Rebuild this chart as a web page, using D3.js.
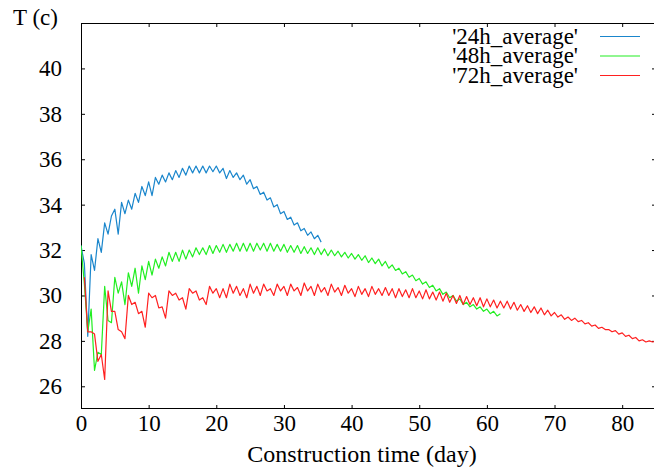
<!DOCTYPE html>
<html>
<head>
<meta charset="utf-8">
<script src="https://cdn.jsdelivr.net/npm/d3@7"></script>
<style>
  body { margin: 0; background: #fff; }
</style>
</head>
<body>
<div class="chart"></div>
<script>
// temperature samples every half day
var sampleStep = 0.5;

var seriesNames = ["'24h_average'", "'48h_average'", "'72h_average'"];
var seriesStart = [0, 0, 0.5];

var avg24 = [
  32.2, 31.4, 28.2, 31.8, 31.1, 32.5, 31.9, 33.2, 32.7, 33.5,
  33.8, 32.7, 34.1, 33.6, 34.2, 33.8, 34.5, 34.1, 34.8, 34.4,
  35.0, 34.4, 35.2, 34.9, 35.3, 35.0, 35.4, 35.1, 35.5, 35.2,
  35.6, 35.3, 35.7, 35.4, 35.7, 35.4, 35.7, 35.4, 35.7, 35.45,
  35.7, 35.4, 35.6, 35.15, 35.5, 35.2, 35.4, 35.1, 35.3, 34.9,
  35.1, 34.7, 34.8, 34.45, 34.55, 34.2, 34.3, 33.9, 34.0, 33.6,
  33.7, 33.35, 33.45, 33.1, 33.2, 32.85, 32.95, 32.65, 32.8, 32.5,
  32.65, 32.35
];

var avg48 = [
  32.2, 30.5, 28.4, 29.4, 26.7, 27.5, 27.4, 30.4, 28.9, 28.8,
  30.8, 30.1, 30.6, 29.6, 31.0, 30.4, 31.2, 30.1, 31.3, 30.7,
  31.5, 30.9, 31.6, 31.2, 31.7, 31.3, 31.9, 31.5, 31.9, 31.5,
  32.0, 31.6, 32.0, 31.7, 32.1, 31.8, 32.1, 31.8, 32.2, 31.85,
  32.2, 31.9, 32.25, 31.9, 32.25, 31.95, 32.3, 31.95, 32.3, 31.95,
  32.3, 31.95, 32.3, 32.0, 32.3, 31.95, 32.3, 31.95, 32.25, 31.95,
  32.25, 31.9, 32.2, 31.9, 32.2, 31.85, 32.15, 31.85, 32.1, 31.8,
  32.1, 31.8, 32.05, 31.75, 32.0, 31.75, 31.95, 31.7, 31.9, 31.65,
  31.85, 31.6, 31.8, 31.55, 31.75, 31.45, 31.65, 31.4, 31.6, 31.3,
  31.5, 31.2, 31.35, 31.1, 31.2, 30.95, 31.05, 30.8, 30.9, 30.65,
  30.75, 30.5, 30.6, 30.35, 30.45, 30.2, 30.3, 30.05, 30.15, 29.9,
  30.0, 29.75, 29.85, 29.6, 29.7, 29.5, 29.6, 29.4, 29.5, 29.3,
  29.4, 29.2, 29.3, 29.1, 29.2
];

var avg72 = [
  30.8, 28.4, 28.4, 28.3, 27.1, 27.4, 26.3, 30.2, 29.3, 29.3,
  28.5, 28.4, 28.1, 30.0, 29.6, 29.7, 29.2, 29.3, 28.6, 30.1,
  29.9, 30.0, 29.45, 29.5, 29.0, 30.2, 30.0, 30.1, 29.8, 29.9,
  29.4, 30.3, 30.1, 30.2, 29.8, 29.9, 29.6, 30.4, 30.1, 30.3,
  29.9, 30.3, 29.9, 30.5, 30.1, 30.4, 30.0, 30.3, 29.9, 30.5,
  30.1, 30.4, 30.0, 30.5, 30.2, 30.3, 30.0, 30.5, 30.2, 30.4,
  30.0, 30.5, 30.2, 30.35, 30.0, 30.55, 30.2, 30.4, 30.0, 30.5,
  30.15, 30.35, 30.0, 30.5, 30.15, 30.35, 30.0, 30.45, 30.1, 30.3,
  29.95, 30.4, 30.05, 30.3, 29.95, 30.4, 30.05, 30.3, 30.0, 30.35,
  30.0, 30.3, 29.9, 30.3, 29.95, 30.25, 29.9, 30.3, 29.9, 30.2,
  29.85, 30.25, 29.85, 30.15, 29.8, 30.15, 29.75, 30.1, 29.7, 30.0,
  29.65, 30.0, 29.6, 29.95, 29.6, 29.9, 29.55, 29.9, 29.5, 29.85,
  29.5, 29.8, 29.45, 29.75, 29.45, 29.75, 29.4, 29.7, 29.35, 29.6,
  29.3, 29.55, 29.25, 29.5, 29.2, 29.45, 29.15, 29.35, 29.1, 29.25,
  29.05, 29.15, 28.95, 29.05, 28.9, 29.0, 28.85, 28.9, 28.75, 28.8,
  28.65, 28.7, 28.55, 28.6, 28.5, 28.5, 28.4, 28.45, 28.3, 28.35,
  28.2, 28.25, 28.1, 28.15, 28.0, 28.05, 27.95, 28.0, 27.95, 28.0
];

var xTicks = [0, 10, 20, 30, 40, 50, 60, 70, 80];
var yTicks = [26, 28, 30, 32, 34, 36, 38, 40];
var colors = ["#1a86cc", "#22ee22", "#ff2020"];

var W = 654, H = 468;
var plotL = 81, plotT = 23, plotR = 656, plotB = 409;
var serif = "'Liberation Serif', 'Times New Roman', 'DejaVu Serif', serif";

var svg = d3.select(".chart").append("svg")
  .attr("width", W)
  .attr("height", H)
  .attr("font-family", serif);

var x = d3.scaleLinear().domain([0, 85]).range([plotL, plotR]);
var y = d3.scaleLinear().domain([25, 42]).range([plotB, plotT]);

svg.append("defs").append("clipPath").attr("id", "plotClip")
  .append("rect").attr("x", plotL).attr("y", plotT)
  .attr("width", plotR - plotL).attr("height", plotB - plotT);

// axes, ticks pointing inward (gnuplot style, mirrored)
function styleAxis(g) {
  g.attr("font-family", serif).attr("font-size", 23);
  g.select(".domain").remove();
  g.selectAll(".tick line").attr("stroke", "#000");
  g.selectAll("text").attr("fill", "#000");
}

svg.append("g").attr("transform", "translate(0," + plotB + ")")
  .call(d3.axisBottom(x).tickValues(xTicks).tickSize(-4).tickPadding(6))
  .call(styleAxis);
svg.append("g").attr("transform", "translate(0," + plotT + ")")
  .call(d3.axisTop(x).tickValues(xTicks).tickSize(-4).tickFormat(""))
  .call(styleAxis);
svg.append("g").attr("transform", "translate(" + plotL + ",0)")
  .call(d3.axisLeft(y).tickValues(yTicks).tickSize(-4).tickPadding(19))
  .call(styleAxis);
svg.append("g").attr("transform", "translate(" + plotR + ",0)")
  .call(d3.axisRight(y).tickValues(yTicks).tickSize(-4).tickFormat(""))
  .call(styleAxis);

svg.append("rect")
  .attr("x", plotL + 0.5).attr("y", plotT + 0.5)
  .attr("width", plotR - plotL - 1).attr("height", plotB - plotT - 1)
  .attr("fill", "none").attr("stroke", "#000").attr("stroke-width", 1);

// series
var allSeries = [avg24, avg48, avg72];
var line = d3.line()
  .x(function(d) { return x(d.day); })
  .y(function(d) { return y(d.t); });

allSeries.forEach(function(vals, k) {
  var pts = vals.map(function(v, i) {
    return { day: seriesStart[k] + i * sampleStep, t: v };
  });
  svg.append("path")
    .datum(pts)
    .attr("clip-path", "url(#plotClip)")
    .attr("fill", "none")
    .attr("stroke", colors[k])
    .attr("stroke-width", 1.2)
    .attr("stroke-linejoin", "round")
    .attr("d", line);
});

// legend
var legend = svg.append("g").selectAll("g").data(seriesNames).enter().append("g")
  .attr("transform", function(d, i) { return "translate(0," + (36.5 + i * 19.5) + ")"; });
legend.append("text")
  .attr("x", 578).attr("y", 7)
  .attr("text-anchor", "end")
  .attr("font-size", 23)
  .text(function(d) { return d; });
legend.append("line")
  .attr("x1", 600).attr("x2", 640)
  .attr("y1", 0).attr("y2", 0)
  .attr("stroke", function(d, i) { return colors[i]; })
  .attr("stroke-width", 1.2);

// axis titles
svg.append("text")
  .attr("x", 13).attr("y", 25)
  .attr("font-size", 23)
  .text("T (c)");
svg.append("text")
  .attr("x", 362).attr("y", 462)
  .attr("text-anchor", "middle")
  .attr("font-size", 24)
  .text("Construction time (day)");
</script>
</body>
</html>
